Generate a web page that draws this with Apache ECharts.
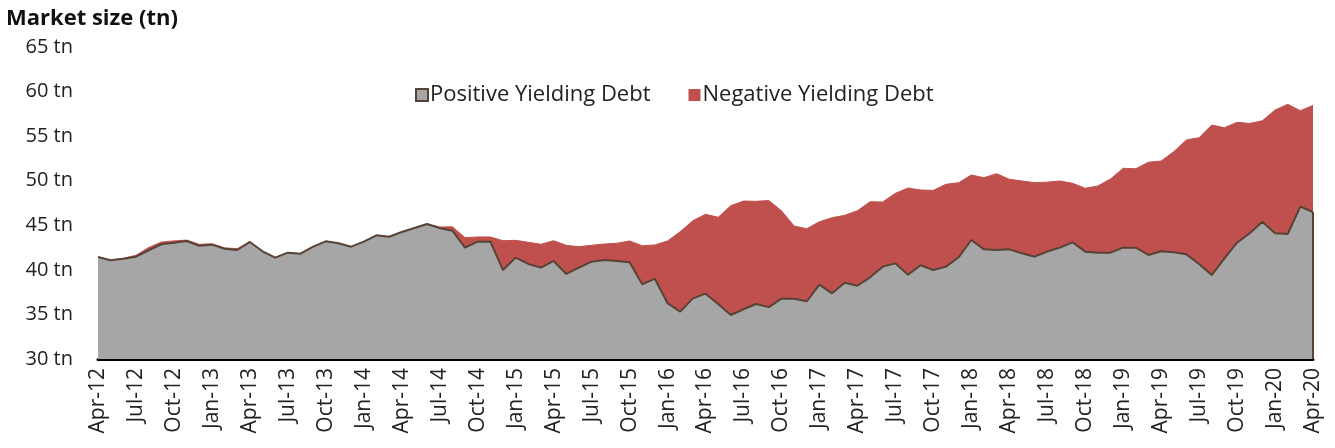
<!DOCTYPE html>
<html>
<head>
<meta charset="utf-8">
<script src="https://cdn.jsdelivr.net/npm/echarts@6/dist/echarts.min.js"></script>
<style>
  html, body { margin: 0; padding: 0; background: #fff; }
  #chart { width: 1335px; height: 448px; }
</style>
</head>
<body>
<div id="chart"></div>
<script>
// monthly points, Apr-12 .. Apr-20
const monthNames = ['Jan', 'Feb', 'Mar', 'Apr', 'May', 'Jun', 'Jul', 'Aug', 'Sep', 'Oct', 'Nov', 'Dec'];
const months = [];
for (let y = 12; y <= 20; y++) {
    for (let m = 0; m < 12; m++) {
        if (y === 12 && m < 3) continue;
        if (y === 20 && m > 3) break;
        months.push(monthNames[m] + '-' + y);
    }
}

// positive yielding debt (tn)
const positive = [
    41.44, 41.07, 41.25, 41.48, 42.2, 42.87, 43.05, 43.24, 42.71, 42.83,
    42.37, 42.23, 43.13, 42.08, 41.37, 41.93, 41.81, 42.6, 43.2, 42.98,
    42.6, 43.16, 43.87, 43.72, 44.25, 44.7, 45.14, 44.7, 44.39, 42.49,
    43.16, 43.16, 39.98, 41.37, 40.66, 40.25, 41.0, 39.54, 40.25, 40.92,
    41.11, 40.99, 40.85, 38.38, 39.01, 36.25, 35.31, 36.8, 37.33, 36.17,
    34.94, 35.58, 36.17, 35.82, 36.77, 36.77, 36.47, 38.34, 37.37, 38.56,
    38.22, 39.16, 40.36, 40.73, 39.46, 40.51, 39.98, 40.36, 41.41, 43.35,
    42.3, 42.23, 42.3, 41.86, 41.48, 42.06, 42.49, 43.09, 42.04, 41.93,
    41.93, 42.49, 42.49, 41.67, 42.08, 41.97, 41.74, 40.66, 39.42, 41.29,
    43.05, 44.1, 45.4, 44.1, 44.02, 47.09, 46.49
];
// negative yielding debt (tn), stacked on top
const negative = [
    0, 0, 0.05, 0.15, 0.3, 0.25, 0.2, 0.1, 0.15, 0.1,
    0.1, 0.15, 0, 0, 0, 0, 0, 0, 0, 0,
    0, 0, 0, 0, 0, 0, 0, 0.1, 0.45, 1.12,
    0.53, 0.53, 3.29, 1.94, 2.43, 2.62, 2.27, 3.21, 2.35, 1.83,
    1.79, 1.99, 2.39, 4.33, 3.78, 6.99, 8.97, 8.71, 8.9, 9.73,
    12.26, 12.14, 11.52, 11.95, 9.86, 8.15, 8.15, 7.06, 8.48, 7.56,
    8.41, 8.48, 7.25, 7.86, 9.72, 8.45, 8.94, 9.24, 8.37, 7.29,
    8.04, 8.56, 7.86, 8.11, 8.3, 7.78, 7.48, 6.62, 7.11, 7.48,
    8.26, 8.9, 8.86, 10.4, 10.13, 11.29, 12.83, 14.17, 16.83, 14.66,
    13.5, 12.33, 11.33, 13.83, 14.55, 10.77, 11.96
];

const seriesNames = ['Positive Yielding Debt', 'Negative Yielding Debt'];
const grey = '#a6a6a6';
const red = '#c0504d';
const edge = '#574335';
const fontFamily = '"Open Sans", sans-serif';

const chart = echarts.init(document.getElementById('chart'));
const last = months.length - 1;

const option = {
    animation: false,
    textStyle: { fontFamily: fontFamily },
    title: {
        text: 'Market size (tn)',
        left: 1,
        top: 3,
        textStyle: { fontSize: 22, fontWeight: 'bold', color: '#111', fontFamily: fontFamily }
    },
    legend: {
        left: 410,
        top: 79,
        itemWidth: 12,
        itemHeight: 12,
        itemGap: 38,
        icon: 'rect',
        textStyle: { fontSize: 22, color: '#222', padding: [0, 0, 0, -3] },
        data: [
            { name: seriesNames[0], itemStyle: { color: grey, borderColor: edge, borderWidth: 2 } },
            { name: seriesNames[1], itemStyle: { color: red, borderWidth: 0 } }
        ]
    },
    grid: { left: 98, right: 22, top: 47, bottom: 89 },
    xAxis: {
        type: 'category',
        data: months,
        boundaryGap: false,
        axisLine: { lineStyle: { color: '#000', width: 3 } },
        axisTick: { show: false },
        axisLabel: { interval: 2, rotate: 90, fontSize: 21, color: '#222', margin: 9 }
    },
    yAxis: {
        type: 'value',
        min: 30,
        max: 65,
        interval: 5,
        axisLine: { show: false },
        axisTick: { show: false },
        splitLine: { show: false },
        axisLabel: { formatter: '{value} tn', fontSize: 20, color: '#222', margin: 25 }
    },
    series: [
        {
            name: seriesNames[0],
            type: 'line',
            stack: 'total',
            data: positive,
            showSymbol: false,
            lineStyle: { color: edge, width: 2 },
            itemStyle: { color: grey },
            areaStyle: { color: grey, opacity: 1 },
            z: 3,
            markLine: {
                silent: true,
                symbol: 'none',
                label: { show: false },
                lineStyle: { color: edge, width: 2, type: 'solid' },
                data: [[{ coord: [months[last], 30] }, { coord: [months[last], positive[last]] }]]
            }
        },
        {
            name: seriesNames[1],
            type: 'line',
            stack: 'total',
            data: negative,
            showSymbol: false,
            lineStyle: { color: red, width: 1 },
            itemStyle: { color: red },
            areaStyle: { color: red, opacity: 1 },
            z: 2
        }
    ]
};

chart.setOption(option);
</script>
</body>
</html>
